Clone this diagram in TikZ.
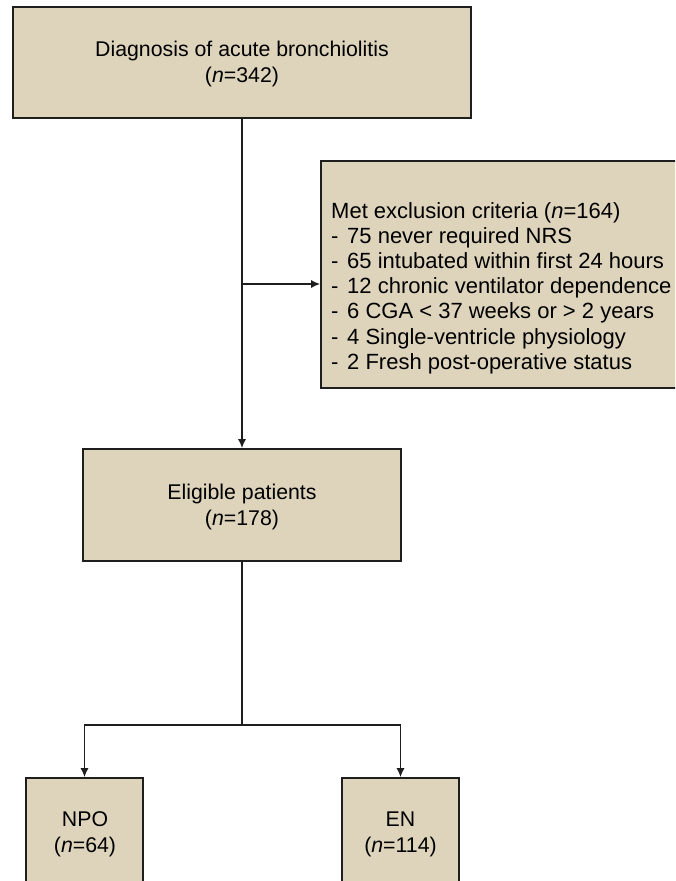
\documentclass[tikz,border=0pt]{standalone}
\usepackage{fontspec}
\setmainfont{Liberation Sans}
\usetikzlibrary{arrows.meta}
\definecolor{boxfill}{RGB}{222,212,188}
\definecolor{edge}{RGB}{30,30,30}
\tikzset{
  flowbox/.style={draw=edge, line width=1.6pt, fill=boxfill, rectangle, inner sep=0pt},
  maintext/.style={font=\fontsize{21.3}{25.5}\selectfont, align=center, inner sep=0pt},
  conn/.style={draw=edge, line width=1.5pt},
  arr/.style={conn, -{Latex[length=9pt,width=8pt]}}
}
\begin{document}
\begin{tikzpicture}[x=1pt,y=-1pt]
\useasboundingbox (0,0) rectangle (675,881);
\fill[white] (0,0) rectangle (675,881);
\begin{scope}
\clip (0,0) rectangle (675,881);
% boxes
\node[flowbox, minimum width=458pt, minimum height=111pt] (top) at (242,62.5) {};
\node[maintext] (toptxt) at (242,64) {Diagnosis of acute bronchiolitis\\(\textit{n}=342)};

\node[flowbox, minimum width=369pt, minimum height=227pt] (excl) at (505.5,274.5) {};
\node[font=\fontsize{22}{25.2}\selectfont, align=left, inner sep=0pt, anchor=north west] (excltxt) at (331,202)
 {Met exclusion criteria (\textit{n}=164)\\
  \makebox[16pt][l]{-}75 never required NRS\\
  \makebox[16pt][l]{-}65 intubated within first 24 hours\\
  \makebox[16pt][l]{-}12 chronic ventilator dependence\\
  \makebox[16pt][l]{-}6 CGA < 37 weeks or > 2 years\\
  \makebox[16pt][l]{-}4 Single-ventricle physiology\\
  \makebox[16pt][l]{-}2 Fresh post-operative status};

\node[flowbox, minimum width=318pt, minimum height=112pt] (elig) at (242,505) {};
\node[maintext] (eligtxt) at (242,507) {Eligible patients\\(\textit{n}=178)};

\node[flowbox, minimum width=117pt, minimum height=112pt] (npo) at (84.5,834) {};
\node[maintext] (npotxt) at (85,834.5) {NPO\\(\textit{n}=64)};

\node[flowbox, minimum width=117pt, minimum height=112pt] (en) at (400.5,834) {};
\node[maintext] (entxt) at (400.5,834.5) {EN\\(\textit{n}=114)};

% connectors
\coordinate (split) at (242,725);
\coordinate (branch) at (242,284);
\draw[arr] (top.south) -- (elig.north);
\draw[arr] (branch) -- (branch -| excl.west);
\draw[conn] (elig.south) -- (split);
\draw[arr] (split) -| (npo.north);
\draw[arr] (split) -| (en.north);
\end{scope}
\end{tikzpicture}
\end{document}
